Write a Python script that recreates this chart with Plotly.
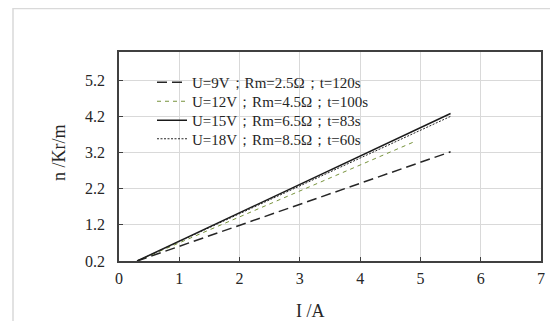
import plotly.graph_objects as go

# Data
series_names = [
    "U=9V；Rm=2.5Ω；t=120s",
    "U=12V；Rm=4.5Ω；t=100s",
    "U=15V；Rm=6.5Ω；t=83s",
    "U=18V；Rm=8.5Ω；t=60s",
]
current_9v = [0.3, 5.5]
speed_9v = [0.2, 3.22]
current_12v = [0.3, 4.9]
speed_12v = [0.2, 3.5]
current_15v = [0.3, 5.5]
speed_15v = [0.2, 4.28]
current_18v = [0.3, 5.5]
speed_18v = [0.2, 4.2]

x_ticks = [0, 1, 2, 3, 4, 5, 6, 7]
y_ticks = [0.2, 1.2, 2.2, 3.2, 4.2, 5.2]

# page has an 8px body margin; work in page pixels and convert
OFF = 8
W, H = 558 - OFF, 321 - OFF
PL, PR, PT, PB = 119, 541, 52, 261  # plot box in page pixels
L, T = PL - OFF, PT - OFF
R = W - (PR - OFF)
B = H - (PB - OFF)
pw, ph = W - L - R, H - T - B

def px_x(p):
    return (p - OFF - L) / pw

def px_y(p):
    return (H - B - (p - OFF)) / ph

font_family = "Liberation Serif, Times New Roman, serif"

fig = go.Figure()
styles = [
    dict(color="#262626", width=1.5, dash="10px,5px"),
    dict(color="#77933C", width=1, dash="4px,4px"),
    dict(color="#1a1a1a", width=1.5, dash="solid"),
    dict(color="#262626", width=1, dash="2px,1.5px"),
]
legend_ids = ["legend", "legend2", "legend3", "legend4"]
legend_centers = [81, 100, 119, 137.5]  # page px of each legend row
xs = [current_9v, current_12v, current_15v, current_18v]
ys = [speed_9v, speed_12v, speed_15v, speed_18v]
for name, x, y, st, lid in zip(series_names, xs, ys, styles, legend_ids):
    fig.add_trace(go.Scatter(x=x, y=y, mode="lines", name=name, line=st, legend=lid))

axis_common = dict(
    showgrid=True, gridcolor="#d9d9d9", gridwidth=1,
    showline=True, linecolor="#404040", linewidth=1.5, mirror=True,
    ticks="inside", ticklen=4, tickcolor="#404040",
    tickfont=dict(family=font_family, size=16, color="#262626"),
    zeroline=False,
)
fig.update_xaxes(range=[0, 7], tickvals=x_ticks, ticktext=[str(v) for v in x_ticks],
                 ticklabelstandoff=2, **axis_common)
fig.update_yaxes(range=[0.2, 5.98], tickvals=y_ticks, ticktext=[f"{v:.1f}" for v in y_ticks],
                 ticklabelstandoff=9, **axis_common)

legend_layout = {}
for lid, c in zip(legend_ids, legend_centers):
    legend_layout[lid] = dict(
        x=px_x(152), y=px_y(c - 15), xanchor="left", yanchor="top",
        bgcolor="rgba(0,0,0,0)", borderwidth=0,
        font=dict(family=font_family, size=15, color="#262626"),
    )

fig.update_layout(
    width=W, height=H,
    margin=dict(l=L, r=R, t=T, b=B),
    paper_bgcolor="white", plot_bgcolor="white",
    showlegend=True,
    annotations=[
        dict(text="n /Kr/m", xref="paper", yref="paper", x=px_x(59), y=px_y(153),
             xanchor="center", yanchor="middle",
             showarrow=False, textangle=-90,
             font=dict(family=font_family, size=18, color="#262626")),
        dict(text="I /A", xref="paper", yref="paper", x=px_x(310), y=px_y(311),
             xanchor="center", yanchor="middle",
             showarrow=False,
             font=dict(family=font_family, size=18, color="#262626")),
    ],
    shapes=[
        dict(type="rect", xref="paper", yref="paper",
             x0=px_x(13), x1=px_x(575), y0=px_y(340), y1=px_y(8.5),
             line=dict(color="#d9d9d9", width=1.5), layer="below"),
    ],
    **legend_layout,
)

fig.write_html("out.html")
